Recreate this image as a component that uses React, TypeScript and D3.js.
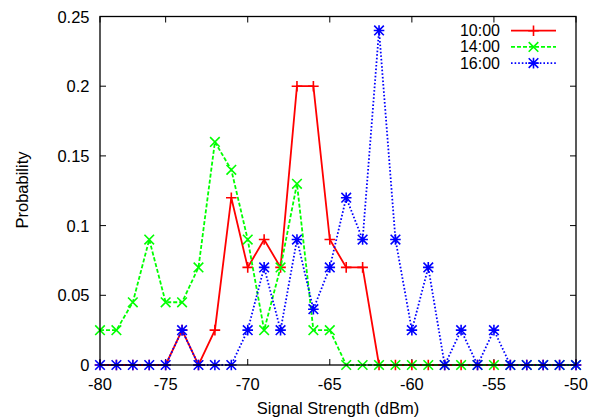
import React from "react";
import * as d3 from "d3";

// Data: 30 sample positions (index)
const sampleIndex: number[] = d3.range(30);
const xTickPositions: number[] = [0, 4, 9, 14, 19, 24, 29];
const xTickLabels: string[] = ["-80", "-75", "-70", "-65", "-60", "-55", "-50"];
const yTicks: number[] = [0, 0.05, 0.1, 0.15, 0.2, 0.25];
const yTickLabels: string[] = ["0", "0.05", "0.1", "0.15", "0.2", "0.25"];

const series1000: number[] = [0, 0, 0, 0, 0, 0.025, 0, 0.025, 0.12, 0.07, 0.09, 0.07, 0.2, 0.2, 0.09, 0.07, 0.07, 0, 0, 0, 0, 0, 0, 0, 0, 0, 0, 0, 0, 0];
const series1400: number[] = [0.025, 0.025, 0.045, 0.09, 0.045, 0.045, 0.07, 0.16, 0.14, 0.09, 0.025, 0.07, 0.13, 0.025, 0.025, 0, 0, 0, 0, 0, 0, 0, 0, 0, 0, 0, 0, 0, 0, 0];
const series1600: number[] = [0, 0, 0, 0, 0, 0.025, 0, 0, 0, 0.025, 0.07, 0.025, 0.09, 0.04, 0.07, 0.12, 0.09, 0.24, 0.09, 0.025, 0.07, 0, 0.025, 0, 0.025, 0, 0, 0, 0, 0];

const seriesNames: string[] = ["10:00", "14:00", "16:00"];
const seriesColors: string[] = ["#ff0000", "#00ff00", "#0000ff"];

const W = 591;
const H = 419;
const M = { left: 100, right: 576, top: 16.5, bottom: 365 };
const FONT = "'Liberation Sans', Arial, Helvetica, sans-serif";
const FS = 16.5;
const LEGEND_FS = 16;

type MarkerKind = "plus" | "cross" | "star";

function Marker({ x, y, kind, color }: { x: number; y: number; kind: MarkerKind; color: string }) {
  const s = 5.3;
  const d = 4.8;
  const plus = `M${x - s},${y}L${x + s},${y}M${x},${y - s}L${x},${y + s}`;
  const cross = `M${x - d},${y - d}L${x + d},${y + d}M${x - d},${y + d}L${x + d},${y - d}`;
  const path = kind === "plus" ? plus : kind === "cross" ? cross : plus + cross;
  return <path d={path} stroke={color} strokeWidth={1.6} fill="none" />;
}

export default function App() {
  const x = d3.scaleLinear().domain([0, 29]).range([M.left, M.right]);
  const y = d3.scaleLinear().domain([0, 0.25]).range([M.bottom, M.top]);
  const line = d3
    .line<number>()
    .x((_, i) => x(sampleIndex[i]))
    .y((v) => y(v));

  const allSeries = [series1000, series1400, series1600];
  const kinds: MarkerKind[] = ["plus", "cross", "star"];
  const dashes = [undefined, "4,2", "1.6,2"];
  const tickLen = 6;

  return (
    <svg width={W} height={H} style={{ position: "absolute", left: 0, top: 0, background: "#fff" }} fontFamily={FONT}>
      <rect x={0} y={0} width={W} height={H} fill="#fff" />
      {/* ticks */}
      {xTickPositions.map((p, i) => (
        <g key={"xt" + i}>
          <line x1={x(p)} x2={x(p)} y1={M.bottom} y2={M.bottom - tickLen} stroke="#000" strokeWidth={1} />
          <line x1={x(p)} x2={x(p)} y1={M.top} y2={M.top + tickLen} stroke="#000" strokeWidth={1} />
          <text x={x(p)} y={384} fontSize={FS} textAnchor="middle" dominantBaseline="central" fill="#000">
            {xTickLabels[i]}
          </text>
        </g>
      ))}
      {yTicks.map((t, i) => (
        <g key={"yt" + i}>
          <line x1={M.left} x2={M.left + tickLen} y1={y(t)} y2={y(t)} stroke="#000" strokeWidth={1} />
          <line x1={M.right} x2={M.right - tickLen} y1={y(t)} y2={y(t)} stroke="#000" strokeWidth={1} />
          <text x={89.5} y={y(t)} fontSize={FS} textAnchor="end" dominantBaseline="central" fill="#000">
            {yTickLabels[i]}
          </text>
        </g>
      ))}
      {/* series */}
      {allSeries.map((s, si) => (
        <g key={"s" + si}>
          <path d={line(s) || ""} fill="none" stroke={seriesColors[si]} strokeWidth={1.8} strokeDasharray={dashes[si]} />
          {s.map((v, i) => (
            <Marker key={i} x={x(sampleIndex[i])} y={y(v)} kind={kinds[si]} color={seriesColors[si]} />
          ))}
        </g>
      ))}
      {/* frame */}
      <rect x={M.left} y={M.top} width={M.right - M.left} height={M.bottom - M.top} fill="none" stroke="#000" strokeWidth={1.3} />
      {/* legend */}
      {seriesNames.map((n, i) => {
        const ly = 30.7 + i * 16.2;
        return (
          <g key={"lg" + i}>
            <text x={500} y={ly} fontSize={LEGEND_FS} textAnchor="end" dominantBaseline="central" fill="#000">
              {n}
            </text>
            <line x1={511} x2={556} y1={ly} y2={ly} stroke={seriesColors[i]} strokeWidth={1.8} strokeDasharray={dashes[i]} />
            <Marker x={533.5} y={ly} kind={kinds[i]} color={seriesColors[i]} />
          </g>
        );
      })}
      {/* axis titles */}
      <text x={338} y={408} fontSize={FS} textAnchor="middle" dominantBaseline="central" fill="#000">
        Signal Strength (dBm)
      </text>
      <text transform={`translate(22,190) rotate(-90)`} fontSize={FS} textAnchor="middle" dominantBaseline="central" fill="#000">
        Probability
      </text>
    </svg>
  );
}
